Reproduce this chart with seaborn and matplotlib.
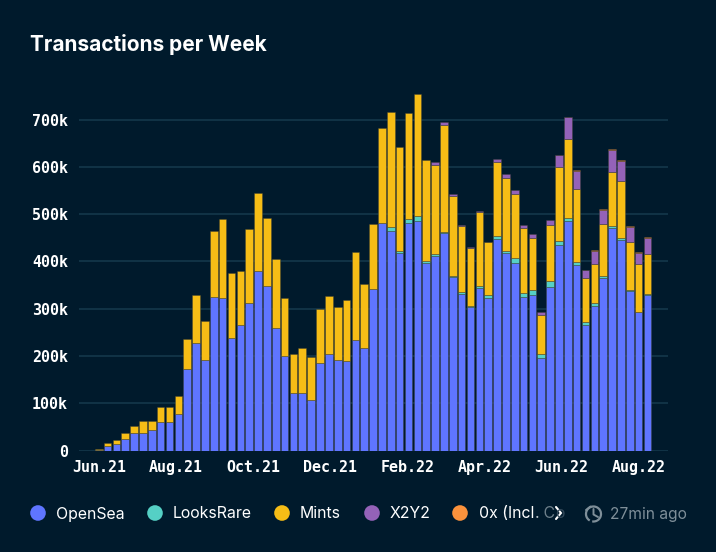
import numpy as np
import pandas as pd
import matplotlib
matplotlib.use("Agg")
import matplotlib.pyplot as plt
from matplotlib.patches import Circle, Arc, Polygon
import seaborn as sns

title = "Transactions per Week"
tick_labels = ["Jun.21", "Aug.21", "Oct.21", "Dec.21", "Feb.22", "Apr.22", "Jun.22", "Aug.22"]
y_ticks = [0, 100, 200, 300, 400, 500, 600, 700]

# cumulative levels, in thousands
opensea_top = [2, 10, 15, 25, 38, 37, 44, 60, 60, 77, 172, 227, 191, 325, 322, 237, 265, 311, 380, 349, 260,
               201, 121, 121, 108, 186, 204, 191, 189, 233, 216, 342, 482, 464, 417, 482, 486, 396, 411, 459,
               367, 332, 303, 344, 323, 448, 417, 397, 324, 330, 196, 346, 434, 485, 392, 265, 306, 364, 470,
               446, 337, 293, 328]
looks_top = [2, 10, 15, 25, 38, 37, 44, 60, 60, 77, 172, 227, 191, 325, 322, 237, 265, 311, 380, 349, 260,
             201, 121, 121, 108, 186, 204, 191, 189, 233, 216, 342, 482, 473, 422, 489, 496, 401, 415, 463,
             370, 336, 306, 349, 330, 454, 422, 408, 333, 340, 205, 359, 444, 492, 398, 271, 313, 369, 474,
             450, 340, 294, 332]
mints_top = [4, 17, 23, 38, 53, 62, 63, 92, 92, 115, 236, 330, 273, 465, 490, 376, 380, 469, 544, 491, 406,
             323, 204, 216, 197, 299, 326, 303, 318, 419, 353, 480, 682, 715, 642, 714, 753, 615, 603, 688,
             539, 475, 429, 505, 441, 611, 576, 542, 470, 449, 286, 476, 599, 658, 553, 365, 394, 480, 590,
             570, 442, 394, 415]
x2y2_top = [4, 17, 23, 38, 53, 62, 63, 92, 92, 115, 236, 330, 273, 465, 490, 376, 380, 469, 544, 491, 406,
            323, 204, 216, 197, 299, 326, 303, 318, 419, 353, 480, 682, 715, 642, 714, 753, 615, 611, 694,
            543, 476, 430, 506, 442, 617, 584, 551, 478, 458, 292, 488, 624, 705, 592, 381, 423, 509, 636,
            612, 473, 418, 450]
zerox_top = [4, 17, 23, 38, 53, 62, 63, 92, 92, 115, 236, 330, 273, 465, 490, 376, 380, 469, 544, 491, 406,
             323, 204, 216, 197, 299, 326, 303, 318, 419, 353, 480, 682, 715, 642, 714, 753, 615, 611, 694,
             543, 476, 430, 506, 442, 617, 584, 551, 478, 458, 292, 488, 625, 706, 593, 382, 424, 511, 637,
             615, 475, 419, 451]

series_names = ["OpenSea", "LooksRare", "Mints", "X2Y2", "0x"]
series_levels = [opensea_top, looks_top, mints_top, x2y2_top, zerox_top]
colors = ["#5f75ff", "#55d0c5", "#f6bd16", "#9462b8", "#fb923c"]

BG = "#001a2c"
GRID = "#123548"

sns.set_theme(style="dark", rc={"axes.facecolor": BG, "figure.facecolor": BG})
plt.rcParams["font.family"] = ["Inter", "DejaVu Sans"]

W, H = 716, 552
fig = plt.figure(figsize=(W / 100, H / 100), dpi=100, facecolor=BG)
y0, ytop = 450.6, 80
x0, x1 = 79, 668
ax = fig.add_axes([x0 / W, 1 - y0 / H, (x1 - x0) / W, (y0 - ytop) / H], facecolor=BG)

weeks = np.arange(len(opensea_top))
prev = np.zeros(len(weeks))
ax.set_axisbelow(True)
for name, levels, col in zip(series_names, series_levels, colors):
    lv = np.array(levels, dtype=float)
    h = lv - prev
    mask = h > 0
    df = pd.DataFrame({"week": weeks[mask], "value": h[mask], "bottom": prev[mask]})
    sns.barplot(data=df, x="week", y="value", native_scale=True, color=col, saturation=1,
                width=0.86, bottom=df["bottom"].values, edgecolor=(0.25, 0.25, 0.2, 0.4),
                linewidth=0.7, ax=ax, zorder=3, errorbar=None)
    prev = lv

ax.set_xlim(-2.23, 64.32)
ax.set_ylim(0, (y0 - ytop) / 47.3 * 100)
ax.set_xlabel("")
ax.set_ylabel("")
ax.set_yticks(y_ticks)
ax.set_yticklabels(["0" if v == 0 else f"{v}k" for v in y_ticks])
ax.set_xticks(np.linspace(0, 61, len(tick_labels)))
ax.set_xticklabels(tick_labels)
ax.grid(False)
ax.grid(True, axis="y", color=GRID, linewidth=1.3, zorder=0)
for s in ax.spines.values():
    s.set_visible(False)
ax.tick_params(axis="both", length=0, colors="white", pad=0)
ax.tick_params(axis="x", pad=7)
ax.tick_params(axis="y", pad=8)
for t in ax.get_xticklabels() + ax.get_yticklabels():
    t.set_family(["DejaVu Sans Mono"])
    t.set_fontweight("bold")
    t.set_fontsize(10.8)
    t.set_color("white")

# overlay in pixel coordinates for title and legend row
ov = fig.add_axes([0, 0, 1, 1], facecolor="none")
ov.set_xlim(0, W)
ov.set_ylim(H, 0)
ov.axis("off")
ov.text(30, 51, title, color="white", fontsize=15, fontweight="bold", family="Inter", va="baseline")

legend_x = [38, 155, 282, 372, 460]
legend_labels = ["OpenSea", "LooksRare", "Mints", "X2Y2"]
ly = 513
for cx, col in zip(legend_x, colors):
    ov.add_patch(Circle((cx, ly), 7.8, color=col, lw=0))
for cx, lab in zip(legend_x, legend_labels):
    ov.text(cx + 18, ly + 5.5, lab, color="white", fontsize=11.4, family="Inter", va="baseline")

r = fig.canvas.get_renderer()
tx = 479
for piece, colr in [("0x (Incl", "#ffffff"), (".", "#b9c2c8"), (" C", "#6d7f8a"), ("o", "#33495a")]:
    t = ov.text(tx, ly + 5.5, piece.replace(" ", "\u00a0"), color=colr, fontsize=11.4, family="Inter", va="baseline")
    tx = t.get_window_extent(r).x1

# chevron
ov.plot([556, 561, 556], [507, 513, 519], color="white", lw=1.5, solid_capstyle="round", solid_joinstyle="miter")
# clock icon
grey = "#7f8f99"
ov.add_patch(Arc((593.5, 514), 15, 15, theta1=-240, theta2=100, color=grey, lw=1.6))
ov.plot([593.5, 593.5, 598], [509, 514.5, 517], color=grey, lw=1.4)
ov.plot([586, 590.5], [510, 506.5], color=grey, lw=1.4)
ov.text(610, ly + 5.5, "27min ago", color=grey, fontsize=11.2, family="Inter", va="baseline")

fig.savefig("out.png", dpi=100, facecolor=BG)
